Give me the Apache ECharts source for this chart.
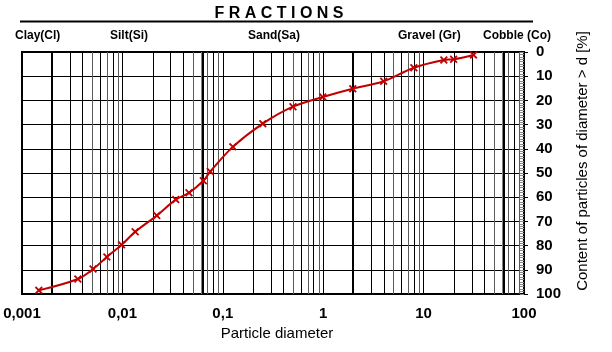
<!DOCTYPE html>
<html>
<head>
<meta charset="utf-8">
<script src="https://cdn.jsdelivr.net/npm/echarts@6/dist/echarts.min.js"></script>
<style>html,body{margin:0;padding:0;background:#fff;}#c{width:612px;height:352px;}</style>
</head>
<body>
<div id="c"></div>
<script>
// Particle diameter [mm]
var diameters = [0.00147, 0.0036, 0.0051, 0.0070, 0.0098, 0.0134, 0.022, 0.034, 0.046, 0.064, 0.075, 0.126, 0.25, 0.5, 0.99, 1.97, 4.0, 8.0, 15.9, 19.9, 31.4];
// Content of particles of diameter > d [%]
var contents = [98.5, 93.8, 89.7, 84.7, 79.7, 74.3, 67.6, 61.0, 58.2, 53.2, 49.4, 39.2, 29.6, 22.6, 18.6, 15.2, 12.1, 6.5, 3.3, 3.0, 1.2];
// Fraction boundaries [mm]
var fractionBounds = [0.002, 0.063, 2, 63];
var fractionNames = ['Clay(Cl)', 'Silt(Si)', 'Sand(Sa)', 'Gravel (Gr)', 'Cobble (Co)'];
var xTickLabels = {'0.001': '0,001', '0.01': '0,01', '0.1': '0,1', '1': '1', '10': '10', '100': '100'};
var decades = [0.001, 0.01, 0.1, 1, 10];
var minorDigits = [2, 3, 4, 5, 6, 7, 8, 9];
var greyDigits = [5, 7, 9];

var chart = echarts.init(document.getElementById('c'), null, {renderer: 'canvas'});

// gridline values: [value, kind]  kind 0 = black minor, 1 = grey minor, 2 = fraction boundary
var vLineData = [];
decades.forEach(function (d) {
  minorDigits.forEach(function (m) {
    vLineData.push([d * m, greyDigits.indexOf(m) >= 0 ? 1 : 0]);
  });
});
fractionBounds.forEach(function (b) { vLineData.push([b, 2]); });

var xPath = 'path://M0,1.6 L1.6,0 L5,3.4 L8.4,0 L10,1.6 L6.6,5 L10,8.4 L8.4,10 L5,6.6 L1.6,10 L0,8.4 L3.4,5 Z';

var fontF = '"Liberation Sans", Arial, sans-serif';
var labelFont = 'bold 12px "Liberation Sans", Arial, sans-serif';
var labelX = [15, 110, 248, 398, 483];

var graphics = [
  {type: 'text', x: 279, y: 14, style: {text: 'F R A C T I O N S', font: 'bold 16px ' + fontF, fill: '#000', textAlign: 'center', textVerticalAlign: 'middle'}},
  {type: 'line', shape: {x1: 20, y1: 21.5, x2: 533, y2: 21.5}, style: {stroke: '#000', lineWidth: 2}},
  {type: 'text', x: 583, y: 161, rotation: Math.PI / 2, style: {text: 'Content of particles of diameter > d [%]', font: '15px ' + fontF, fill: '#000', textAlign: 'center', textVerticalAlign: 'middle'}}
];
fractionNames.forEach(function (n, i) {
  graphics.push({type: 'text', x: labelX[i], y: 35.5, style: {text: n, font: labelFont, fill: '#000', textAlign: 'left', textVerticalAlign: 'middle'}});
});

var seriesData = diameters.map(function (d, i) { return [d, contents[i]]; });

function renderVLine(params, api) {
  var cs = params.coordSys;
  var v = api.value(0);
  var x = api.coord([v, 0])[0];
  var kind = api.value(1);
  var w, stroke;
  if (kind === 2) { w = 2; stroke = '#000'; x = Math.round(x); }
  else { w = 1; stroke = kind === 0 ? '#000' : '#5a5a5a'; x = Math.round(x) + 0.5; }
  var line = {type: 'line', shape: {x1: x, y1: cs.y, x2: x, y2: cs.y + cs.height}, style: {stroke: stroke, lineWidth: w}};
  if (kind === 2 && ((v > 0.05 && v < 0.07) || v > 50)) {
    return {type: 'group', children: [
      {type: 'line', shape: {x1: x - 1.5, y1: cs.y, x2: x - 1.5, y2: cs.y + cs.height}, style: {stroke: '#808080', lineWidth: 1}},
      line
    ]};
  }
  return line;
}

chart.setOption({
  animation: false,
  backgroundColor: '#fff',
  grid: {left: 22, right: 88, top: 52, bottom: 58, show: true, borderColor: '#000', borderWidth: 2, backgroundColor: 'transparent'},
  graphic: graphics,
  xAxis: {
    type: 'log', logBase: 10, min: 0.001, max: 100,
    name: 'Particle diameter', nameLocation: 'middle', nameGap: 30,
    nameTextStyle: {fontFamily: fontF, fontSize: 15, color: '#000', padding: [0, 0, 0, 8]},
    axisLine: {show: true, lineStyle: {color: '#000', width: 2}},
    axisTick: {show: false},
    axisLabel: {color: '#000', fontWeight: 'bold', fontSize: 15, fontFamily: fontF, margin: 12,
      formatter: function (v) { var k = String(+v.toPrecision(3)); return xTickLabels[k] !== undefined ? xTickLabels[k] : ''; }},
    splitLine: {show: true, lineStyle: {color: '#000', width: 1}},
    minorTick: {show: false}
  },
  yAxis: [{
    type: 'value', position: 'right', inverse: true, min: 0, max: 100, interval: 10,
    axisLine: {show: true, lineStyle: {color: '#000', width: 2}},
    axisTick: {show: true, inside: false, length: 4, lineStyle: {color: '#000'}},
    axisLabel: {color: '#000', fontWeight: 'bold', fontSize: 15, fontFamily: fontF, margin: 12},
    splitLine: {show: true, lineStyle: {color: '#000', width: 1}}
  }, {
    type: 'value', position: 'right', inverse: true, min: 0, max: 100, interval: 10,
    axisLine: {show: false},
    axisTick: {show: true, inside: true, length: 4, lineStyle: {color: '#888'}},
    minorTick: {show: true, splitNumber: 10, length: 4, lineStyle: {color: '#888'}},
    axisLabel: {show: false},
    splitLine: {show: false}
  }],
  series: [{
    type: 'custom', data: vLineData, renderItem: renderVLine, silent: true, z: 1,
    encode: {x: 0}, clip: true
  }, {
    type: 'line', data: seriesData, yAxisIndex: 0, smooth: 0.35,
    lineStyle: {color: '#c00000', width: 2},
    itemStyle: {color: '#c00000'},
    symbol: xPath, symbolSize: 8, showSymbol: true, z: 5
  }]
});
</script>
</body>
</html>
